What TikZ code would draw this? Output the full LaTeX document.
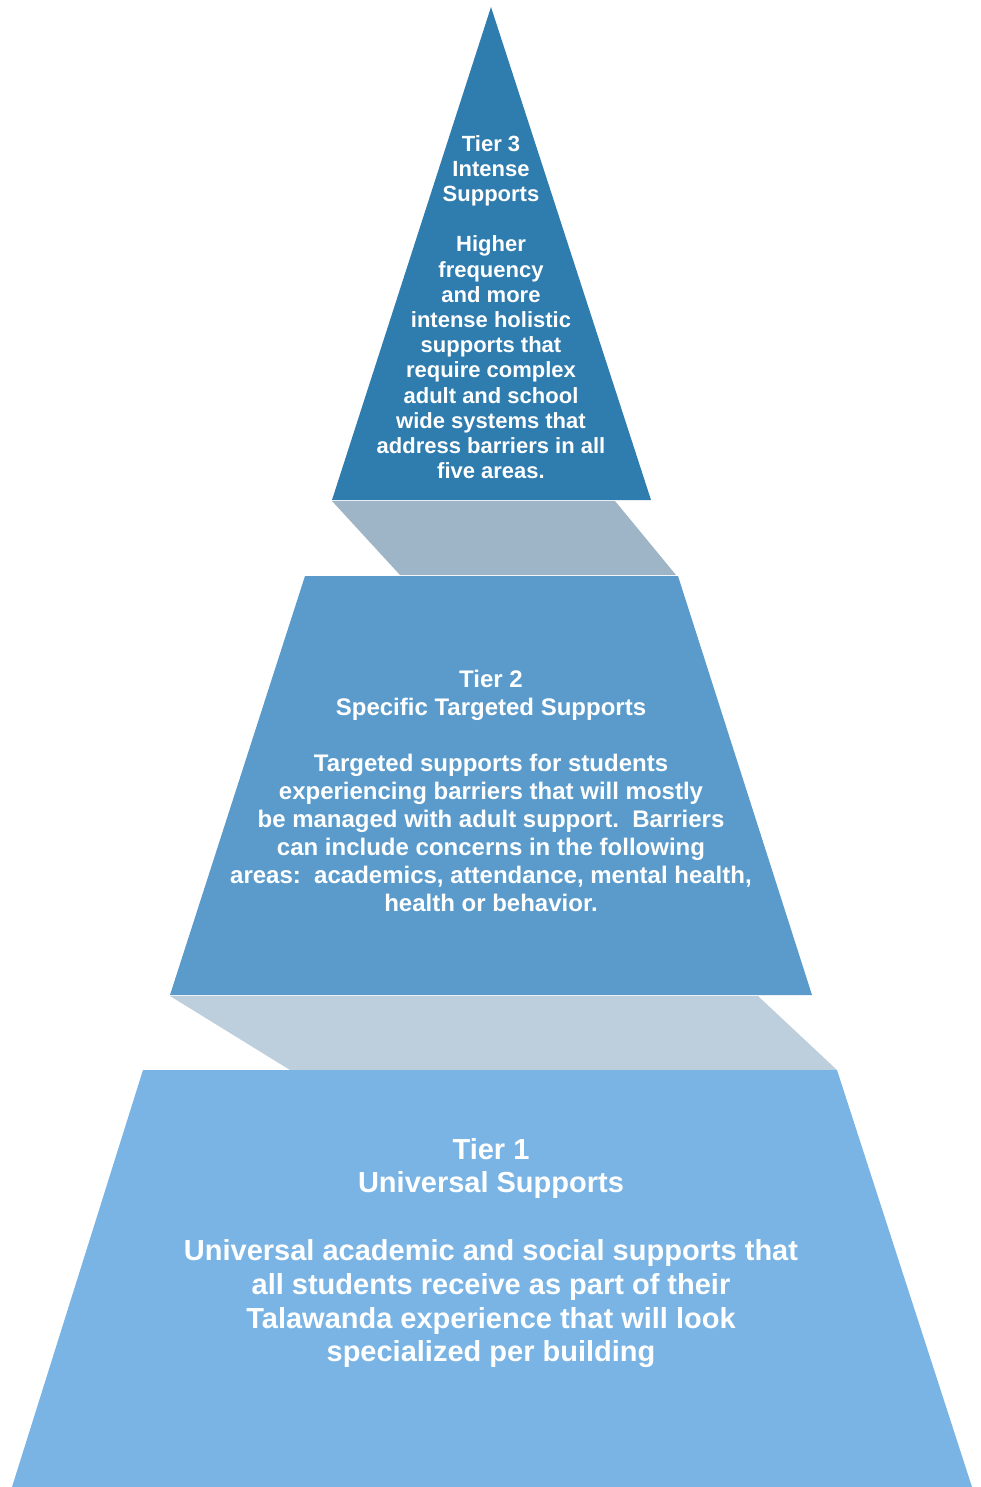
\documentclass[tikz,border=0pt]{standalone}
\usepackage{fontspec}
\setmainfont{Liberation Sans}
\definecolor{tierba}{HTML}{2F7CAF}
\definecolor{tierhai}{HTML}{5A9BCB}
\definecolor{tiermot}{HTML}{79B4E5}
\definecolor{bongmot}{HTML}{9DB5C7}
\definecolor{bonghai}{HTML}{BDCEDC}
\tikzset{
	chu/.style={text=white,align=center,inner sep=0pt},
}
\begin{document}
\begin{tikzpicture}[x=1pt,y=-1pt]
			\useasboundingbox (0,0) rectangle (981,1487);
			% bong giua cac tang
			\fill[bongmot] (332,501)--(615,501)--(676,575)--(400,575)--cycle;
			\fill[bonghai] (170,996)--(758,996)--(837,1070)--(290,1070)--cycle;
			% ba tang
			\fill[tierba] (491,7)--(651,500)--(332,500)--cycle;
			\fill[tierhai] (305,576)--(678,576)--(812,995)--(170,995)--cycle;
			\fill[tiermot] (143,1070)--(837,1070)--(972,1487)--(12,1487)--cycle;
			% chu
			\node[chu,font=\fontsize{22}{25.2}\selectfont\bfseries] (tier3) at (491,307)
				{Tier 3\\Intense\\Supports\\[25.2pt]Higher\\frequency\\and more\\intense holistic\\supports that\\require complex\\adult and school\\wide systems that\\address barriers in all\\five areas.};
			\node[chu,font=\fontsize{24}{28}\selectfont\bfseries] (tier2) at (491,791)
				{Tier 2\\Specific Targeted Supports\\[28pt]Targeted supports for students\\experiencing barriers that will mostly\\be managed with adult support.\ \ Barriers\\can include concerns in the following\\areas:\ \ academics, attendance, mental health,\\health or behavior.};
			\node[chu,font=\fontsize{29}{33.8}\selectfont\bfseries] (tier1) at (491,1253)
				{Tier 1\\Universal Supports\\[33.8pt]Universal academic and social supports that\\all students receive as part of their\\Talawanda experience that will look\\specialized per building};
		\end{tikzpicture}
\end{document}
